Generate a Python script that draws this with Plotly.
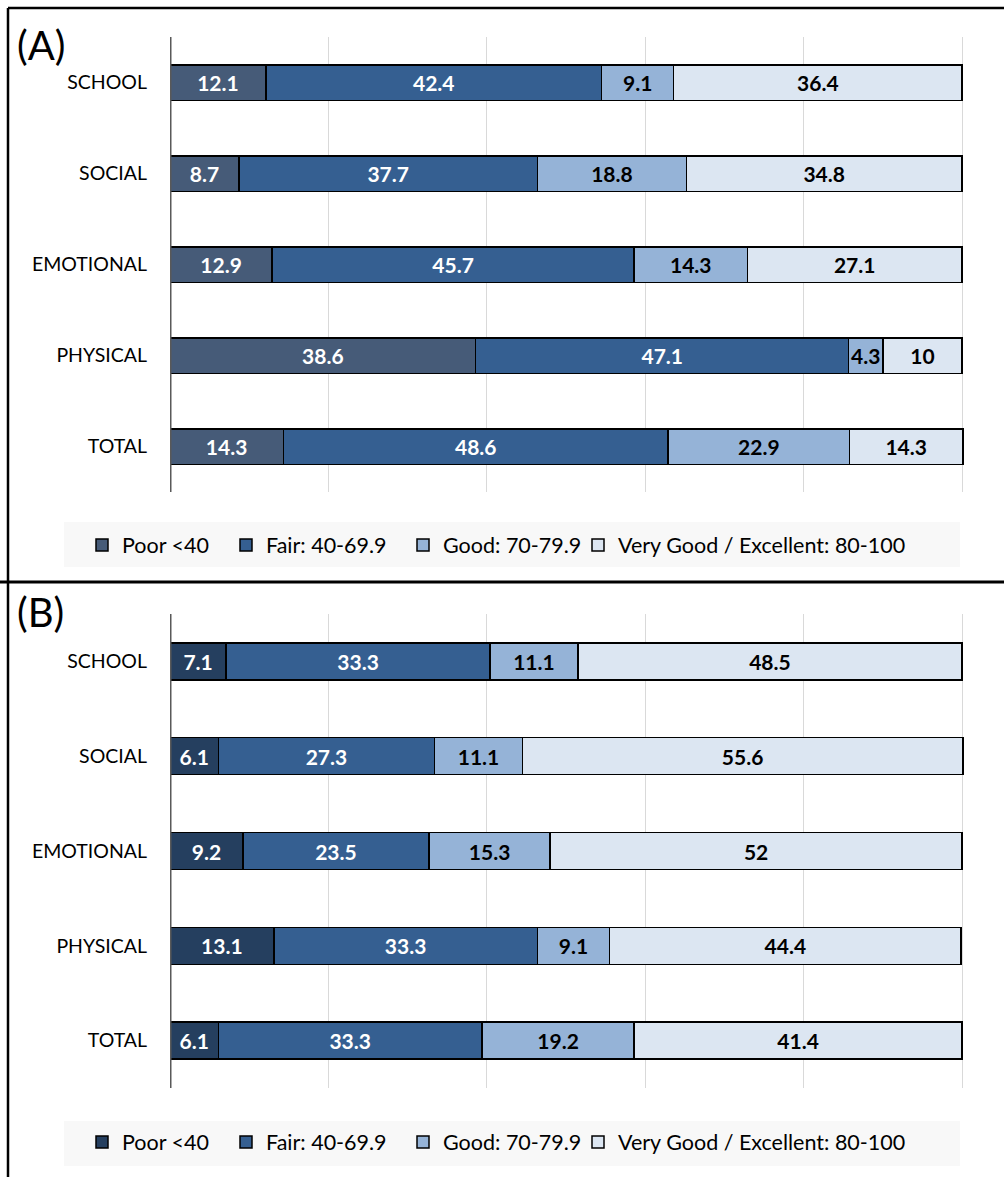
import plotly.graph_objects as go

categories = ["SCHOOL", "SOCIAL", "EMOTIONAL", "PHYSICAL", "TOTAL"]
series_names = ["Poor <40", "Fair: 40-69.9", "Good: 70-79.9", "Very Good / Excellent: 80-100"]

# Panel A values (percent)
a_poor = [12.1, 8.7, 12.9, 38.6, 14.3]
a_fair = [42.4, 37.7, 45.7, 47.1, 48.6]
a_good = [9.1, 18.8, 14.3, 4.3, 22.9]
a_vgood = [36.4, 34.8, 27.1, 10, 14.3]

# Panel B values (percent)
b_poor = [7.1, 6.1, 9.2, 13.1, 6.1]
b_fair = [33.3, 27.3, 23.5, 33.3, 33.3]
b_good = [11.1, 11.1, 15.3, 9.1, 19.2]
b_vgood = [48.5, 55.6, 52, 44.4, 41.4]

colors_a = ["#465B78", "#355F91", "#95B3D7", "#DCE6F2"]
colors_b = ["#253F5F", "#355F91", "#95B3D7", "#DCE6F2"]
text_colors = ["white", "white", "black", "black"]

W, H = 1004, 1177
FONT = "Lato"
LABEL_SIZE = 21

# legend entry text start positions (px) in the reference
legend_text_x = [122, 266, 443, 618]

def py(px):
    return 1 - px / H

def px_x(px):
    return px / W

fig = go.Figure()

panels = [
    ([a_poor, a_fair, a_good, a_vgood], colors_a, "x", "y", 0, 545),
    ([b_poor, b_fair, b_good, b_vgood], colors_b, "x2", "y2", 4, 1142),
]

legends = {}
for vals, cols, xa, ya, lgoff, ly in panels:
    for i, (name, v, c, tc) in enumerate(zip(series_names, vals, cols, text_colors)):
        idx = lgoff + i + 1
        lname = "legend" if idx == 1 else f"legend{idx}"
        legends[lname] = dict(
            orientation="h", xanchor="left", yanchor="middle",
            x=px_x(legend_text_x[i] - 40), y=py(ly),
            bgcolor="rgba(0,0,0,0)", borderwidth=0,
            font=dict(family=FONT, size=21.5, color="black"),
            itemclick=False, itemdoubleclick=False, itemwidth=30,
        )
        fig.add_trace(go.Bar(
            y=categories, x=v, orientation="h", name=name,
            marker=dict(color=c, line=dict(color="black", width=1.5)),
            text=[f"{t:g}" for t in v], textposition="inside",
            insidetextanchor="middle", textangle=0,
            textfont=dict(family=FONT, size=LABEL_SIZE, color=tc, weight="bold"),
            width=0.39, xaxis=xa, yaxis=ya, legend=lname,
            hoverinfo="skip",
        ))

XMAX = 100.4
x0_px, x100_px = 170, 962
xdom = [px_x(x0_px), px_x(x0_px + (x100_px - x0_px) * XMAX / 100)]
axis_x = dict(range=[0, XMAX], tickvals=[0, 20, 40, 60, 80, 100], showgrid=True,
              gridcolor="#D9D9D9", gridwidth=1, showticklabels=False,
              zeroline=False, showline=False, fixedrange=True)
axis_y = dict(categoryorder="array", categoryarray=categories, range=[4.5, -0.5],
              showgrid=False, zeroline=False, showline=False, ticks="",
              tickfont=dict(family=FONT, size=19.5, color="black"),
              ticklabelstandoff=22, fixedrange=True)

fig.update_layout(
    width=W, height=H, margin=dict(l=0, r=0, t=0, b=0),
    paper_bgcolor="white", plot_bgcolor="white",
    barmode="stack",
    uniformtext=dict(minsize=LABEL_SIZE, mode="show"),
    font=dict(family=FONT, color="black"),
    xaxis=dict(domain=xdom, anchor="y", **axis_x),
    yaxis=dict(domain=[py(492), py(37)], anchor="x", **axis_y),
    xaxis2=dict(domain=xdom, anchor="y2", **axis_x),
    yaxis2=dict(domain=[py(1088), py(614)], anchor="x2", **axis_y),
    showlegend=True,
    **legends,
)

shapes = []
# legend background bands
for top, bot in [(522, 567), (1121, 1166)]:
    shapes.append(dict(type="rect", xref="paper", yref="paper",
                       x0=px_x(64), x1=px_x(960), y0=py(bot), y1=py(top),
                       fillcolor="#F8F8F8", line=dict(width=0), layer="below"))
# vertical axis lines at 0
for xr, yr in [("x", "y domain"), ("x2", "y2 domain")]:
    shapes.append(dict(type="line", xref=xr, yref=yr, x0=0, x1=0, y0=0, y1=1,
                       line=dict(color="#595959", width=3), layer="above"))
# panel borders
shapes.append(dict(type="line", xref="paper", yref="paper", x0=px_x(8), x1=1,
                   y0=py(8), y1=py(8), line=dict(color="black", width=2.5)))
shapes.append(dict(type="line", xref="paper", yref="paper", x0=px_x(8), x1=px_x(8),
                   y0=0, y1=py(8), line=dict(color="black", width=2.5)))
shapes.append(dict(type="line", xref="paper", yref="paper", x0=0, x1=1,
                   y0=py(582), y1=py(582), line=dict(color="black", width=3)))
fig.update_layout(shapes=shapes)

fig.add_annotation(text="(A)", xref="paper", yref="paper", x=px_x(15), y=py(45),
                   xanchor="left", yanchor="middle", showarrow=False,
                   font=dict(family=FONT, size=40, color="black"))
fig.add_annotation(text="(B)", xref="paper", yref="paper", x=px_x(15), y=py(612),
                   xanchor="left", yanchor="middle", showarrow=False,
                   font=dict(family=FONT, size=40, color="black"))

fig.write_html("out.html", config={"displayModeBar": False},
               post_script="document.body.style.margin='0';document.body.style.overflow='hidden';")
